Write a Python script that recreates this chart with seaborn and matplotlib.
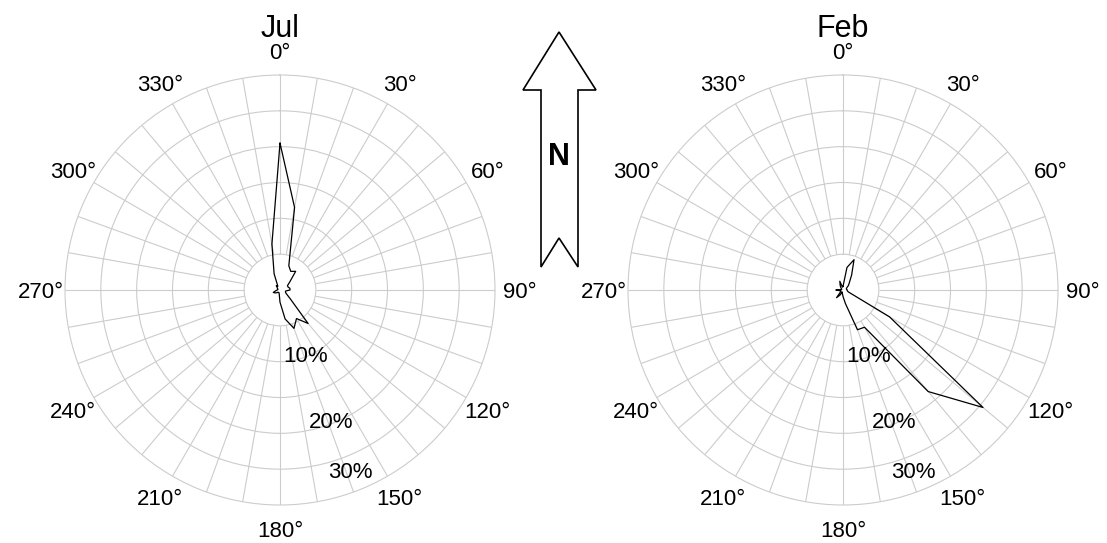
import numpy as np
import pandas as pd
import matplotlib.pyplot as plt
from matplotlib.patches import Polygon
import seaborn as sns

# wind direction bins (deg, clockwise from north) and frequency (%)
directions = list(range(0, 360, 10))
jul_freq = [20.5, 11.7, 3.6, 3.0, 3.4, 1.8, 1.2, 1.2, 1.4, 1.4, 0.8, 0.8,
            1.0, 1.8, 6.1, 4.6, 5.7, 4.1, 1.7, 0.6, 0.4, 0.4, 0.4, 0.6,
            0.8, 1.0, 0.6, 0.4, 0.3, 0.3, 0.4, 0.5, 0.8, 0.6, 2.4, 6.5]
feb_freq = [0.5, 3.2, 4.5, 2.4, 1.4, 1.0, 0.6, 0.5, 0.5, 0.6, 0.6, 0.8,
            7.5, 25.5, 18.5, 6.0, 5.9, 1.9, 0.9, 0.5, 0.3, 0.8, 1.4, 0.5,
            0.3, 0.4, 0.5, 1.0, 0.3, 0.2, 0.2, 0.3, 0.5, 0.8, 1.3, 0.4]
months = ['Jul', 'Feb']
series = {'Jul': jul_freq, 'Feb': feb_freq}

ring_values = [5, 10, 15, 20, 25]
r_max = 30
r_labels = ['10%', '20%', '30%']
r_label_pos = [10, 19.8, 27.3]
theta_ticks = list(range(0, 360, 30))

sns.set_style('white')
plt.rcParams['font.family'] = ['Liberation Sans', 'DejaVu Sans']
plt.rcParams['text.color'] = 'black'

grid_color = '#cccccc'
fig = plt.figure(figsize=(11.07, 5.43), dpi=100)
axes_rects = [[65 / 1107, 38 / 543, 430 / 1107, 430 / 543],
              [628 / 1107, 38 / 543, 430 / 1107, 430 / 543]]

for month, rect in zip(months, axes_rects):
    ax = fig.add_axes(rect, projection='polar')
    ax.set_theta_zero_location('N')
    ax.set_theta_direction(-1)
    ax.set_ylim(0, r_max)

    # rings + spokes (spokes start at the inner 5% ring)
    ax.set_yticks(ring_values)
    ax.set_yticklabels([])
    ax.yaxis.grid(True, color=grid_color, lw=0.8)
    ax.xaxis.grid(False)
    ax.vlines(np.deg2rad(directions), ring_values[0], r_max, colors=grid_color, lw=0.8, zorder=1)
    ax.spines['polar'].set_color(grid_color)
    ax.spines['polar'].set_linewidth(0.8)

    # angle labels, centred on a circle outside the plot (matlab style)
    ax.set_xticks(np.deg2rad(theta_ticks))
    ax.set_xticklabels([])
    for t in theta_ticks:
        ax.text(np.deg2rad(t), 33.4, f'{t}°', fontsize=16, ha='center',
                va='center_baseline', clip_on=False)

    for lab, rv in zip(r_labels, r_label_pos):
        ax.text(np.deg2rad(159), rv, lab, fontsize=16, ha='center', va='center')

    vals = series[month]
    df = pd.DataFrame({'theta': np.deg2rad(directions + [directions[0]]),
                       'freq': vals + [vals[0]]})
    sns.lineplot(data=df, x='theta', y='freq', ax=ax, sort=False, estimator=None,
                 color='black', lw=0.9, zorder=3)
    ax.set_xlabel('')
    ax.set_ylabel('')
    ax.set_title(month, fontsize=22, y=1 + 38 / 430, pad=0, color='black')

# north arrow
arrow_px = [(559, 32), (596, 90), (578, 90), (578, 267), (559, 238),
            (541, 267), (541, 90), (523, 90)]
arrow = Polygon([(x / 1107, 1 - y / 543) for x, y in arrow_px], closed=True,
                facecolor='white', edgecolor='black', lw=1.2, transform=fig.transFigure)
fig.add_artist(arrow)
fig.text(559 / 1107, 1 - 157 / 543, 'N', fontsize=22, fontweight='bold',
         ha='center', va='center')

fig.savefig('out.png', dpi=100)
